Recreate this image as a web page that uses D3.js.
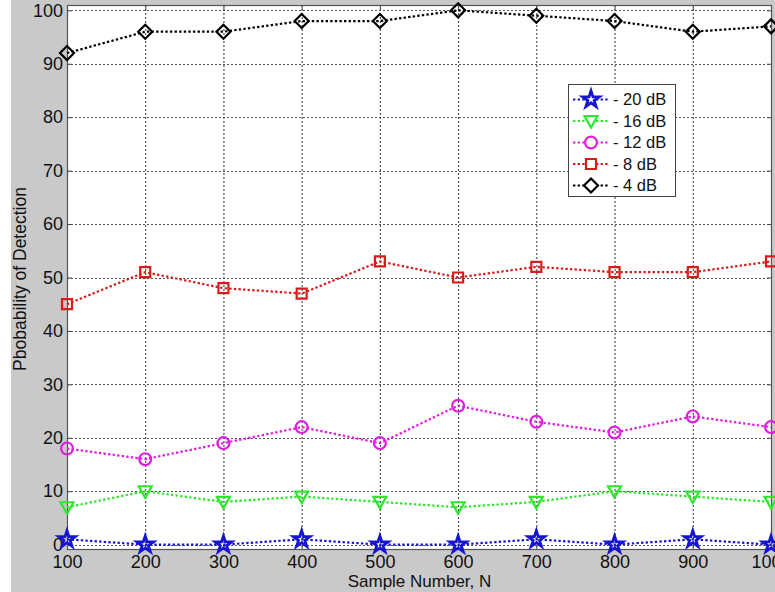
<!DOCTYPE html>
<html>
<head>
<meta charset="utf-8">
<script src="https://cdn.jsdelivr.net/npm/d3@7"></script>
<style>
  body { margin: 0; background: #fff; }
  svg { display: block; font-family: "Liberation Sans", Arial, sans-serif; }
</style>
</head>
<body>
<svg width="775" height="592"></svg>
<script>
// chart values
var sampleN = [100, 200, 300, 400, 500, 600, 700, 800, 900, 1000];
var snr20 = [1, 0, 0, 1, 0, 0, 1, 0, 1, 0];
var snr16 = [7, 10, 8, 9, 8, 7, 8, 10, 9, 8];
var snr12 = [18, 16, 19, 22, 19, 26, 23, 21, 24, 22];
var snr8 = [45, 51, 48, 47, 53, 50, 52, 51, 51, 53];
var snr4 = [92, 96, 96, 98, 98, 100, 99, 98, 96, 97];
var seriesNames = ['- 20 dB', '- 16 dB', '- 12 dB', '- 8 dB', '- 4 dB'];
var xTicks = [100, 200, 300, 400, 500, 600, 700, 800, 900, 1000];
var yTicks = [0, 10, 20, 30, 40, 50, 60, 70, 80, 90, 100];

var series = [
    {name: seriesNames[0], values: snr20, color: '#1414d2', marker: 'star'},
    {name: seriesNames[1], values: snr16, color: '#2ee62e', marker: 'triangle'},
    {name: seriesNames[2], values: snr12, color: '#e01ee0', marker: 'circle'},
    {name: seriesNames[3], values: snr8, color: '#d81c1c', marker: 'square'},
    {name: seriesNames[4], values: snr4, color: '#000000', marker: 'diamond'}
];

var svg = d3.select('svg');
var svgWidth = +svg.attr('width');
var svgHeight = +svg.attr('height');

// figure background (MATLAB grey) with white strip at left
svg.append('rect')
    .attr('x', 11).attr('y', 0)
    .attr('width', svgWidth - 11).attr('height', svgHeight)
    .attr('fill', '#c9c9c9');

var box = {l: 67, r: 772, t: 5, b: 550};
var chartWidth = box.r - box.l;
var chartHeight = box.b - box.t;

var xScale = d3.scaleLinear().domain([100, 1000]).range([box.l, box.r - 1]);
var yScale = d3.scaleLinear().domain([-1, 101]).range([box.b, box.t]);

// axes area
svg.append('rect')
    .attr('x', box.l).attr('y', box.t)
    .attr('width', chartWidth).attr('height', chartHeight)
    .attr('fill', '#ffffff');

// grid
var gridG = svg.append('g');
gridG.selectAll('.vgrid')
    .data(xTicks)
    .enter()
    .append('line')
    .attr('x1', d => xScale(d) + 0.5).attr('x2', d => xScale(d) + 0.5)
    .attr('y1', box.t).attr('y2', box.b)
    .attr('stroke', '#333')
    .attr('stroke-width', 1)
    .attr('stroke-dasharray', '2,2');
gridG.selectAll('.hgrid')
    .data(yTicks)
    .enter()
    .append('line')
    .attr('x1', box.l).attr('x2', box.r)
    .attr('y1', d => Math.round(yScale(d)) + 0.5).attr('y2', d => Math.round(yScale(d)) + 0.5)
    .attr('stroke', '#555')
    .attr('stroke-width', 1)
    .attr('stroke-dasharray', '2,2');

// axes with inward ticks
svg.append('g')
    .attr('transform', 'translate(0,' + box.b + ')')
    .attr('font-size', 18)
    .attr('font-family', '"Liberation Sans", Arial, sans-serif')
    .call(d3.axisBottom(xScale).tickValues(xTicks).tickFormat(d3.format('d')).tickSize(-5).tickPadding(5))
    .attr('font-size', 18)
    .attr('font-family', '"Liberation Sans", Arial, sans-serif')
    .call(g => g.select('.domain').remove())
    .call(g => g.selectAll('text').attr('fill', '#111'))
    .call(g => g.selectAll('line').attr('stroke', '#444'));

svg.append('g')
    .attr('transform', 'translate(' + box.l + ',0)')
    .call(d3.axisLeft(yScale).tickValues(yTicks).tickSize(-5).tickPadding(4))
    .attr('font-size', 18)
    .attr('font-family', '"Liberation Sans", Arial, sans-serif')
    .call(g => g.select('.domain').remove())
    .call(g => g.selectAll('text').attr('fill', '#111'))
    .call(g => g.selectAll('line').attr('stroke', '#444'));

svg.append('g')
    .attr('transform', 'translate(0,' + box.t + ')')
    .call(d3.axisTop(xScale).tickValues(xTicks).tickSize(-5).tickFormat(''))
    .call(g => g.select('.domain').remove())
    .call(g => g.selectAll('line').attr('stroke', '#444'));

svg.append('g')
    .attr('transform', 'translate(' + box.r + ',0)')
    .call(d3.axisRight(yScale).tickValues(yTicks).tickSize(-5).tickFormat(''))
    .call(g => g.select('.domain').remove())
    .call(g => g.selectAll('line').attr('stroke', '#444'));

// axes border
svg.append('rect')
    .attr('x', box.l + 0.5).attr('y', box.t + 0.5)
    .attr('width', chartWidth - 1).attr('height', chartHeight - 1)
    .attr('fill', 'none')
    .attr('stroke', '#555')
    .attr('stroke-width', 1.2);

// axis labels
svg.append('text')
    .attr('x', (box.l + box.r) / 2)
    .attr('y', 587)
    .attr('text-anchor', 'middle')
    .attr('font-size', 17)
    .attr('fill', '#111')
    .text('Sample Number, N');

svg.append('text')
    .attr('transform', 'translate(26,' + 279 + ') rotate(-90)')
    .attr('text-anchor', 'middle')
    .attr('font-size', 17.5)
    .attr('fill', '#111')
    .text('Pbobability of Detection');

// markers
function markerPath(type) {
    if (type === 'star') return d3.symbol().type(d3.symbolStar).size(85)();
    if (type === 'triangle') return 'M-6.5,-5L6.5,-5L0,6.5Z';
    if (type === 'circle') return d3.symbol().type(d3.symbolCircle).size(110)();
    if (type === 'square') return 'M-5,-5L5,-5L5,5L-5,5Z';
    return 'M0,-7L7,0L0,7L-7,0Z';
}

var lineInterpolator = d3.line()
    .x((d, i) => xScale(sampleN[i]))
    .y(d => yScale(d));

var seriesG = svg.selectAll('.series')
    .data(series)
    .enter()
    .append('g');

seriesG.append('path')
    .attr('d', d => lineInterpolator(d.values))
    .attr('fill', 'none')
    .attr('stroke', d => d.color)
    .attr('stroke-width', 2.2)
    .attr('stroke-dasharray', '2.4,2.2');

seriesG.each(function(s) {
    d3.select(this).selectAll('.mk')
        .data(s.values)
        .enter()
        .append('path')
        .attr('transform', (d, i) => 'translate(' + xScale(sampleN[i]) + ',' + yScale(d) + ')')
        .attr('d', markerPath(s.marker))
        .attr('fill', 'none')
        .attr('stroke', s.color)
        .attr('stroke-width', s.marker === 'star' ? 2.8 : 2.2);
});

// legend
var legend = {x: 568, y: 84, w: 107, h: 112, row0: 99.5, step: 21.5};
var legendG = svg.append('g');
legendG.append('rect')
    .attr('x', legend.x + 0.5).attr('y', legend.y + 0.5)
    .attr('width', legend.w).attr('height', legend.h)
    .attr('fill', '#fff')
    .attr('stroke', '#444')
    .attr('stroke-width', 1);

var rows = legendG.selectAll('.row')
    .data(series)
    .enter()
    .append('g')
    .attr('transform', (d, i) => 'translate(0,' + (legend.row0 + i * legend.step) + ')');

rows.append('line')
    .attr('x1', 573).attr('x2', 609)
    .attr('y1', 0).attr('y2', 0)
    .attr('stroke', d => d.color)
    .attr('stroke-width', 2.2)
    .attr('stroke-dasharray', '2.4,2.2');

rows.append('path')
    .attr('transform', 'translate(591,0)')
    .attr('d', d => markerPath(d.marker))
    .attr('fill', '#fff')
    .attr('stroke', d => d.color)
    .attr('stroke-width', d => d.marker === 'star' ? 2.8 : 2.2);

rows.append('text')
    .attr('x', 613)
    .attr('y', 0)
    .attr('dy', '0.35em')
    .attr('font-size', 16.5)
    .attr('fill', '#111')
    .text(d => d.name);
</script>
</body>
</html>
